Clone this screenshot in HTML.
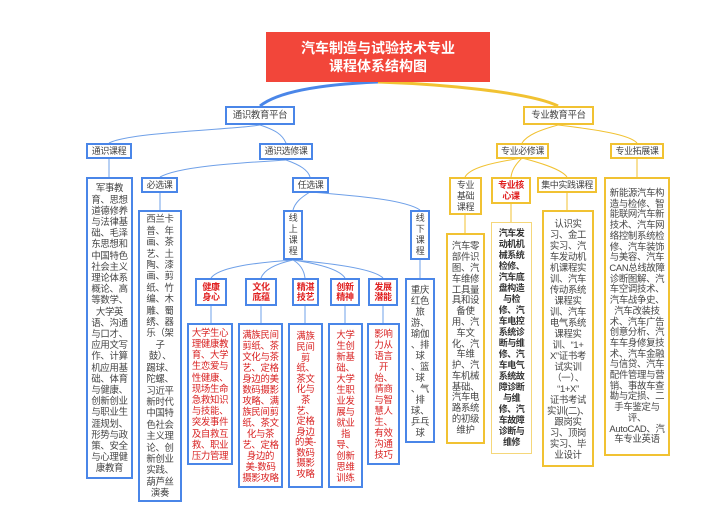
<!DOCTYPE html>
<html><head><meta charset="utf-8"><style>
html,body{margin:0;padding:0;background:#fff;width:722px;height:522px;overflow:hidden}
body{position:relative;font-family:"Liberation Sans","Noto Sans CJK SC","WenQuanYi Zen Hei",sans-serif}
.b{position:absolute;box-sizing:border-box;display:flex;align-items:center;justify-content:center;text-align:center;font-size:9.4px;letter-spacing:-0.3px;line-height:10.5px;color:#444;white-space:nowrap;background:#fff;overflow:visible}
.s{font-size:9px;letter-spacing:-0.4px}
.bl{border:2px solid #4a86e8}
.yl{border:2px solid #f1c232}
.r{color:#e02020;font-weight:bold}
.rt{color:#d82020}
</style></head><body>
<svg width="722" height="522" style="position:absolute;left:0;top:0" fill="none">
<path d="M378 82 C330 84 280 90 260 106" stroke="#4a86e8" stroke-width="3"/>
<path d="M378 82 C440 84 530 92 558 106" stroke="#f1c232" stroke-width="3"/>
<g stroke="#6fa0e8" stroke-width="1">
<path d="M260 125 C230 130 130 132 109 143"/>
<path d="M260 125 C275 130 282 134 286 143"/>
<path d="M109 158 V177"/>
<path d="M286 160 C240 163 180 166 160 177"/>
<path d="M286 160 C300 165 308 170 310 177"/>
<path d="M160 192 V210"/>
<path d="M310 192 C300 198 295 203 293 210"/>
<path d="M310 192 C360 196 405 200 420 210"/>
<path d="M293 260 C250 263 218 268 211 278"/>
<path d="M293 260 C275 264 264 270 261 278"/>
<path d="M293 260 C300 264 304 270 305 278"/>
<path d="M293 260 C320 264 340 270 345 278"/>
<path d="M293 260 C340 264 375 270 383 278"/>
<path d="M211 306 V323 M261 306 V323 M305 306 V323 M345 306 V323 M383 306 V323 M420 260 V278"/>
</g>
<g stroke="#f1c232" stroke-width="1">
<path d="M558 125 C540 130 527 135 522 143"/>
<path d="M558 125 C600 130 630 135 637 143"/>
<path d="M522 158 C490 163 470 168 465 177"/>
<path d="M522 158 C515 165 512 170 511 177"/>
<path d="M522 158 C545 164 562 170 567 177"/>
<path d="M465 215 V233 M511 204 V222 M567 192 V210 M637 158 V177"/>
</g>
</svg>
<div class="b" style="left:266px;top:32px;width:224px;height:50px;background:#f2463a;color:#fff;font-size:14px;letter-spacing:0;line-height:18px;font-weight:bold">汽车制造与试验技术专业<br>课程体系结构图</div>
<div class="b bl" style="left:225px;top:106px;width:70px;height:19px">通识教育平台</div>
<div class="b yl" style="left:523px;top:106px;width:71px;height:19px">专业教育平台</div>
<div class="b bl s" style="left:86px;top:143px;width:46px;height:16px">通识课程</div>
<div class="b bl s" style="left:259px;top:143px;width:54px;height:17px">通识选修课</div>
<div class="b yl s" style="left:496px;top:143px;width:53px;height:16px">专业必修课</div>
<div class="b yl s" style="left:610px;top:143px;width:54px;height:16px">专业拓展课</div>
<div class="b bl" style="left:86px;top:177px;width:47px;height:302px;line-height:11.2px">军事教<br>育、思想<br>道德修养<br>与法律基<br>础、毛泽<br>东思想和<br>中国特色<br>社会主义<br>理论体系<br>概论、高<br>等数学、<br>大学英<br>语、沟通<br>与口才、<br>应用文写<br>作、计算<br>机应用基<br>础、体育<br>与健康、<br>创新创业<br>与职业生<br>涯规划、<br>形势与政<br>策、安全<br>与心理健<br>康教育</div>
<div class="b bl s" style="left:141px;top:177px;width:37px;height:16px">必选课</div>
<div class="b bl" style="left:138px;top:210px;width:44px;height:292px;line-height:11.4px">西兰卡<br>普、年<br>画、茶<br>艺、土<br>陶、漆<br>画、剪<br>纸、竹<br>编、木<br>雕、蜀<br>绣、器<br>乐（架<br>子<br>鼓）、<br>踢球、<br>陀螺、<br>习近平<br>新时代<br>中国特<br>色社会<br>主义理<br>论、创<br>新创业<br>实践、<br>葫芦丝<br>演奏</div>
<div class="b bl s" style="left:292px;top:177px;width:37px;height:16px">任选课</div>
<div class="b bl s" style="left:283px;top:210px;width:20px;height:50px;line-height:11px">线<br>上<br>课<br>程</div>
<div class="b bl s" style="left:410px;top:210px;width:20px;height:50px;line-height:11px">线<br>下<br>课<br>程</div>
<div class="b bl r s" style="left:195px;top:278px;width:32px;height:28px">健康<br>身心</div>
<div class="b bl r s" style="left:245px;top:278px;width:32px;height:28px">文化<br>底蕴</div>
<div class="b bl r s" style="left:292px;top:278px;width:27px;height:28px">精湛<br>技艺</div>
<div class="b bl r s" style="left:330px;top:278px;width:30px;height:28px">创新<br>精神</div>
<div class="b bl r s" style="left:368px;top:278px;width:30px;height:28px">发展<br>潜能</div>
<div class="b bl rt" style="left:187px;top:323px;width:46px;height:142px;line-height:11.2px">大学生心<br>理健康教<br>育、大学<br>生恋爱与<br>性健康、<br>现场生命<br>急救知识<br>与技能、<br>突发事件<br>及自救互<br>救、职业<br>压力管理</div>
<div class="b bl rt" style="left:238px;top:323px;width:45px;height:165px;line-height:11px">满族民间<br>剪纸、茶<br>文化与茶<br>艺、定格<br>身边的美<br>数码摄影<br>攻略、满<br>族民间剪<br>纸、茶文<br>化与茶<br>艺、定格<br>身边的<br>美-数码<br>摄影攻略</div>
<div class="b bl rt" style="left:288px;top:323px;width:35px;height:165px;line-height:10.6px">满族<br>民间<br>剪<br>纸、<br>茶文<br>化与<br>茶<br>艺、<br>定格<br>身边<br>的美-<br>数码<br>摄影<br>攻略</div>
<div class="b bl rt" style="left:328px;top:323px;width:35px;height:165px;line-height:11px">大学<br>生创<br>新基<br>础、<br>大学<br>生职<br>业发<br>展与<br>就业<br>指<br>导、<br>创新<br>思维<br>训练</div>
<div class="b bl rt" style="left:367px;top:323px;width:33px;height:142px;line-height:11px">影响<br>力从<br>语言<br>开<br>始、<br>情商<br>与智<br>慧人<br>生、<br>有效<br>沟通<br>技巧</div>
<div class="b bl" style="left:405px;top:278px;width:30px;height:165px;line-height:11px">重庆<br>红色<br>旅<br>游、<br>瑜伽<br>、排<br>球<br>、篮<br>球<br>、气<br>排<br>球、<br>乒乓<br>球</div>
<div class="b yl s" style="left:449px;top:177px;width:33px;height:38px;line-height:11px">专业<br>基础<br>课程</div>
<div class="b yl r s" style="left:491px;top:177px;width:40px;height:27px;line-height:11px">专业核<br>心课</div>
<div class="b yl s" style="left:537px;top:177px;width:60px;height:16px">集中实践课程</div>
<div class="b yl" style="left:446px;top:233px;width:39px;height:211px;line-height:10.8px">汽车零<br>部件识<br>图、汽<br>车维修<br>工具量<br>具和设<br>备使<br>用、汽<br>车文<br>化、汽<br>车维<br>护、汽<br>车机械<br>基础、<br>汽车电<br>路系统<br>的初级<br>维护</div>
<div class="b" style="left:491px;top:222px;width:41px;height:232px;border:1px solid #f5d77a;line-height:11px;font-weight:bold;color:#333;font-size:9px;letter-spacing:-0.5px">汽车发<br>动机机<br>械系统<br>检修、<br>汽车底<br>盘构造<br>与检<br>修、汽<br>车电控<br>系统诊<br>断与维<br>修、汽<br>车电气<br>系统故<br>障诊断<br>与维<br>修、汽<br>车故障<br>诊断与<br>维修</div>
<div class="b yl" style="left:542px;top:210px;width:52px;height:257px;line-height:11px">认识实<br>习、金工<br>实习、汽<br>车发动机<br>机课程实<br>训、汽车<br>传动系统<br>课程实<br>训、汽车<br>电气系统<br>课程实<br>训、“1+<br>X”证书考<br>试实训<br>（一）、<br>“1+X”<br>证书考试<br>实训(二)、<br>跟岗实<br>习、顶岗<br>实习、毕<br>业设计</div>
<div class="b yl" style="left:604px;top:177px;width:66px;height:279px;line-height:10.7px">新能源汽车构<br>造与检修、智<br>能联网汽车新<br>技术、汽车网<br>络控制系统检<br>修、汽车装饰<br>与美容、汽车<br>CAN总线故障<br>诊断图解、汽<br>车空调技术、<br>汽车战争史、<br>汽车改装技<br>术、汽车广告<br>创意分析、汽<br>车车身修复技<br>术、汽车金融<br>与信贷、汽车<br>配件管理与营<br>销、事故车查<br>勘与定损、二<br>手车鉴定与<br>评、<br>AutoCAD、汽<br>车专业英语</div>
</body></html>
